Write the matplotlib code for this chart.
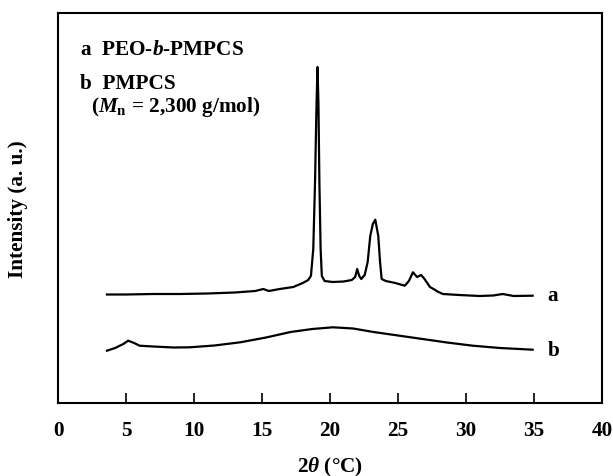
import matplotlib
matplotlib.use("Agg")
import matplotlib.pyplot as plt

plt.rcParams['font.family'] = ['Liberation Serif', 'DejaVu Serif']
plt.rcParams['font.weight'] = 'bold'
plt.rcParams['mathtext.fontset'] = 'custom'
plt.rcParams['mathtext.rm'] = 'Liberation Serif:bold'
plt.rcParams['mathtext.bf'] = 'Liberation Serif:bold'
plt.rcParams['mathtext.it'] = 'Liberation Serif:italic:bold'

# Curve a: PEO-b-PMPCS (2theta, intensity in arbitrary units)
a_x = [3.6, 5, 7, 9, 11, 13, 14.5, 15.1, 15.5, 16.3, 17.3, 18.0, 18.4, 18.6, 18.77,
       18.9, 18.99, 19.08, 19.15, 19.22, 19.31, 19.4, 19.6, 20.2, 21.0, 21.6, 21.85,
       22.0, 22.15, 22.3, 22.55, 22.77, 22.96, 23.15, 23.33, 23.55, 23.68, 23.8, 24.1,
       24.8, 25.5, 25.8, 26.1, 26.4, 26.7, 26.95, 27.35, 27.7, 27.9, 28.3, 29.5, 31.0,
       32.0, 32.7, 33.5, 34.9]
a_y = [108.5, 108.5, 109, 109, 109.5, 110.5, 112, 114, 112, 114, 116, 120, 123, 127.3,
       154, 221, 287, 336, 300, 221, 154, 127, 122, 121, 121.5, 123, 126,
       134, 127, 124, 128, 141, 167, 179, 183.3, 167, 141, 124, 122,
       120, 117.3, 122, 130.7, 126, 128, 124, 116, 113.3, 111.5, 109, 108, 107,
       107.5, 109, 107, 107.3]

# Curve b: PMPCS (Mn = 2,300 g/mol)
b_x = [3.6, 4.2, 4.8, 5.16, 5.6, 6.0, 7.0, 8.5, 9.7, 11.5, 13.4, 15.3, 17.1, 18.7,
       20.2, 21.7, 23.2, 25.0, 26.8, 28.6, 30.5, 32.5, 34.9]
b_y = [52.3, 55, 59, 62.3, 60, 57.3, 56.5, 55.5, 55.7, 57.5, 60.7, 65.5, 71, 74,
       75.7, 74.5, 71, 67.5, 64, 60.5, 57.3, 55, 53.3]

x_ticks = [0, 5, 10, 15, 20, 25, 30, 35, 40]

FS = 15.3

fig = plt.figure(figsize=(6.13, 4.77), dpi=100)
ax = fig.add_axes([58/613, 73/477, 544/613, 390/477])

ax.plot(a_x, a_y, color='black', lw=1.6)
ax.plot(b_x, b_y, color='black', lw=1.6)

ax.set_xlim(0, 40)
ax.set_ylim(0, 390)
ax.set_xticks(x_ticks)
ax.set_yticks([])
ax.tick_params(axis='x', direction='in', length=7, width=1.2, labelsize=FS, pad=12)
for lab in ax.get_xticklabels():
    lab.set_fontweight('bold')
for s in ax.spines.values():
    s.set_linewidth(1.5)

ax.set_xlabel(r'2$\theta$ (°C)', fontsize=FS, fontweight='bold', va='center')
ax.xaxis.set_label_coords(0.5, -0.1615)
ax.set_ylabel('Intensity (a. u.)', fontsize=FS, fontweight='bold', va='center')
ax.yaxis.set_label_coords(-0.0735, 0.5)

ax.text(36.0, 108, 'a', fontsize=FS, fontweight='bold', va='center')
ax.text(36.0, 53, 'b', fontsize=FS, fontweight='bold', va='center')

ax.text(1.6, 349, r'a  PEO-$b$-PMPCS', fontsize=FS, fontweight='bold')
ax.text(1.6, 315, 'b  PMPCS', fontsize=FS, fontweight='bold')
ax.text(2.4, 292, r'($M_{\mathbf{n}}$ = 2,300 g/mol)', fontsize=FS, fontweight='bold')

fig.savefig('out.png', dpi=100)
